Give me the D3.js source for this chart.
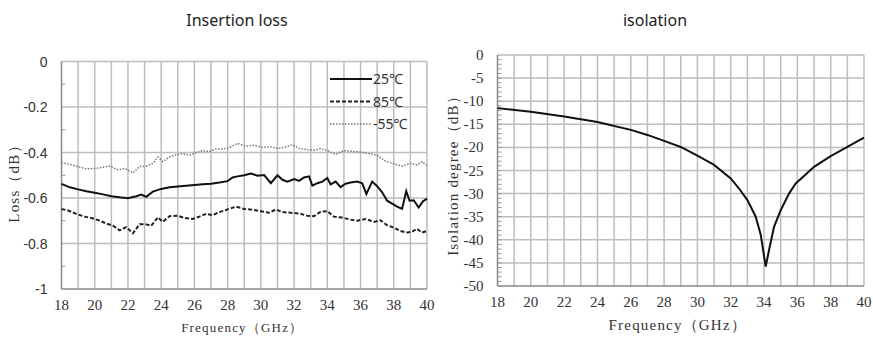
<!DOCTYPE html>
<html>
<head>
<meta charset="utf-8">
<script src="https://cdn.jsdelivr.net/npm/d3@7"></script>
<style>
  body { margin: 0; background: #fff; }
  svg text { fill: #333; }
</style>
</head>
<body>
<div id="chart"></div>
<script>
// Insertion loss data (GHz, dB)
const f25 = [18, 18.5, 19, 19.5, 20, 20.5, 21, 21.5, 22, 22.5, 22.8, 23.1, 23.5, 24, 24.5, 25, 25.5, 26, 26.5, 27, 27.5, 28, 28.3, 28.6, 29, 29.4, 29.8, 30.2, 30.6, 31.0, 31.3, 31.6, 32.0, 32.3, 32.6, 32.9, 33.1, 33.4, 33.7, 34.0, 34.2, 34.5, 34.8, 35.1, 35.4, 35.8, 36.1, 36.35, 36.7, 37.0, 37.3, 37.6, 37.9, 38.2, 38.5, 38.75, 38.95, 39.2, 39.5, 39.75, 40];
const loss25 = [-0.538, -0.553, -0.562, -0.570, -0.577, -0.584, -0.592, -0.597, -0.601, -0.592, -0.585, -0.595, -0.572, -0.560, -0.553, -0.549, -0.546, -0.543, -0.540, -0.537, -0.532, -0.526, -0.510, -0.505, -0.500, -0.492, -0.502, -0.499, -0.535, -0.500, -0.520, -0.528, -0.517, -0.525, -0.510, -0.505, -0.546, -0.535, -0.528, -0.512, -0.540, -0.528, -0.552, -0.537, -0.532, -0.528, -0.535, -0.582, -0.528, -0.548, -0.575, -0.612, -0.625, -0.638, -0.648, -0.570, -0.612, -0.610, -0.642, -0.615, -0.603];

const f85 = [18, 18.4, 18.9, 19.4, 19.9, 20.3, 20.7, 21.1, 21.5, 21.9, 22.3, 22.7, 23.1, 23.4, 23.8, 24.1, 24.5, 25.0, 25.4, 25.9, 26.3, 26.7, 27.1, 27.5, 28.0, 28.5, 29.0, 29.5, 30.0, 30.5, 30.9, 31.3, 31.8, 32.3, 32.8, 33.2, 33.6, 34.0, 34.4, 34.9, 35.4, 35.8, 36.3, 36.8, 37.2, 37.6, 38.0, 38.4, 38.8, 39.1, 39.4, 39.7, 40];
const loss85 = [-0.648, -0.655, -0.670, -0.682, -0.690, -0.700, -0.712, -0.722, -0.742, -0.728, -0.755, -0.715, -0.716, -0.722, -0.685, -0.705, -0.680, -0.678, -0.688, -0.692, -0.682, -0.670, -0.675, -0.662, -0.650, -0.638, -0.648, -0.652, -0.658, -0.665, -0.650, -0.662, -0.665, -0.668, -0.678, -0.680, -0.660, -0.658, -0.682, -0.686, -0.695, -0.700, -0.692, -0.705, -0.698, -0.720, -0.730, -0.745, -0.752, -0.748, -0.735, -0.752, -0.745];

const fm55 = [18, 18.5, 19, 19.5, 20, 20.5, 20.9, 21.4, 21.8, 22.3, 22.7, 23.1, 23.5, 23.8, 24.1, 24.5, 24.9, 25.3, 25.7, 26.1, 26.5, 26.9, 27.3, 27.7, 28.1, 28.6, 29.1, 29.6, 30.1, 30.6, 31.0, 31.4, 31.9, 32.3, 32.8, 33.2, 33.6, 34.0, 34.5, 35.0, 35.5, 36.0, 36.5, 37.0, 37.5, 38.0, 38.5, 39.0, 39.4, 39.7, 40];
const lossm55 = [-0.445, -0.452, -0.462, -0.472, -0.470, -0.465, -0.460, -0.476, -0.470, -0.490, -0.462, -0.460, -0.448, -0.420, -0.440, -0.420, -0.410, -0.405, -0.412, -0.400, -0.392, -0.396, -0.385, -0.385, -0.378, -0.360, -0.372, -0.368, -0.378, -0.375, -0.382, -0.378, -0.366, -0.382, -0.388, -0.390, -0.383, -0.392, -0.408, -0.392, -0.395, -0.398, -0.405, -0.412, -0.438, -0.450, -0.460, -0.448, -0.455, -0.440, -0.458];

// Isolation data
const fIso = [18, 20, 22, 24, 26, 27, 28, 29, 30, 31, 32, 32.5, 33, 33.5, 33.8, 34.1, 34.3, 34.6, 35, 35.5, 35.9, 36.4, 37, 38, 39, 40];
const iso = [-11.5, -12.3, -13.3, -14.5, -16.2, -17.3, -18.6, -19.9, -21.8, -23.8, -26.7, -28.9, -31.4, -35.0, -38.9, -45.8, -42.2, -37.2, -33.6, -30.0, -27.8, -26.2, -24.2, -21.9, -19.9, -17.9];

const freqTicks = [18, 20, 22, 24, 26, 28, 30, 32, 34, 36, 38, 40];
const lossTicks = [0, -0.2, -0.4, -0.6, -0.8, -1];
const isoTicks = [0, -5, -10, -15, -20, -25, -30, -35, -40, -45, -50];
const legendLabels = ["25\u2103", "85\u2103", "-55\u2103"];

const width = 873, height = 339;
const svg = d3.select("#chart").append("svg")
    .attr("width", width)
    .attr("height", height);

const serif = "'Liberation Serif', 'DejaVu Serif', serif";

function panel(opt) {
    const x = d3.scaleLinear().domain([18, 40]).range([opt.left, opt.right]);
    const y = d3.scaleLinear().domain(opt.yDomain).range([opt.top, opt.bottom]);
    const g = svg.append("g");

    // grid
    g.selectAll("line.vg")
        .data(d3.range(19, 41))
        .enter().append("line")
        .attr("x1", d => x(d)).attr("x2", d => x(d))
        .attr("y1", opt.top).attr("y2", opt.bottom)
        .attr("stroke", "#bdbdbd").attr("stroke-width", 1.5);
    g.selectAll("line.hg")
        .data(opt.yTicks.slice(0, -1))
        .enter().append("line")
        .attr("x1", opt.left).attr("x2", opt.right)
        .attr("y1", d => y(d)).attr("y2", d => y(d))
        .attr("stroke", "#bdbdbd").attr("stroke-width", 1.5);

    // minor ticks on the left axis
    g.selectAll("line.mt")
        .data(opt.minor)
        .enter().append("line")
        .attr("x1", opt.left).attr("x2", opt.left + 4)
        .attr("y1", d => y(d)).attr("y2", d => y(d))
        .attr("stroke", "#999").attr("stroke-width", 1);

    // axes lines
    g.append("line")
        .attr("x1", opt.left).attr("x2", opt.left)
        .attr("y1", opt.top).attr("y2", opt.bottom)
        .attr("stroke", "#8a8a8a").attr("stroke-width", 1.5);
    g.append("line")
        .attr("x1", opt.left).attr("x2", opt.right)
        .attr("y1", opt.bottom).attr("y2", opt.bottom)
        .attr("stroke", "#8a8a8a").attr("stroke-width", 1.5);

    // tick labels
    g.selectAll("text.xt")
        .data(freqTicks)
        .enter().append("text")
        .attr("x", d => x(d))
        .attr("y", opt.bottom + 21)
        .attr("text-anchor", "middle")
        .style("font-family", serif)
        .style("font-size", "15px")
        .text(d => d);
    g.selectAll("text.yt")
        .data(opt.yTicks)
        .enter().append("text")
        .attr("x", opt.left - 14)
        .attr("y", d => y(d) + 5)
        .attr("text-anchor", "end")
        .style("font-family", opt.yFont)
        .style("font-size", opt.yTickSize)
        .text(d => d);

    // axis titles
    g.append("text")
        .attr("x", (opt.left + opt.right) / 2 + opt.xTitleDx)
        .attr("y", opt.xTitleY)
        .attr("text-anchor", "middle")
        .style("font-family", serif)
        .style("font-size", opt.xTitleSize)
        .style("letter-spacing", "1.2px")
        .text("Frequency\uff08GHz\uff09");
    g.append("text")
        .attr("transform", `translate(${opt.yTitleX},${opt.yTitleY}) rotate(-90)`)
        .attr("text-anchor", "middle")
        .style("font-family", serif)
        .style("font-size", "15px")
        .style("letter-spacing", "1.2px")
        .text(opt.yTitle);

    // chart title
    svg.append("text")
        .attr("x", opt.titleX)
        .attr("y", 26)
        .attr("text-anchor", "middle")
        .style("font-family", "'Noto Sans', 'Open Sans', sans-serif")
        .style("font-size", "16px")
        .style("fill", "#222")
        .text(opt.title);

    return { x, y, g };
}

// ---- Insertion loss ----
const p1 = panel({
    left: 61.5, right: 427, top: 61.5, bottom: 289,
    yDomain: [0, -1], yTicks: lossTicks,
    minor: [-0.1, -0.3, -0.5, -0.7, -0.9],
    yFont: "'Liberation Sans', Arial, sans-serif", yTickSize: "14px",
    xTitleDx: -2, xTitleY: 332, xTitleSize: "13px",
    yTitle: "Loss\uff08dB\uff09", yTitleX: 19, yTitleY: 180,
    title: "Insertion loss", titleX: 237
});

const series = [
    { f: f25, v: loss25, w: 2, dash: null, color: "#111" },
    { f: f85, v: loss85, w: 2, dash: "4,2", color: "#222" },
    { f: fm55, v: lossm55, w: 1.5, dash: "1.5,1.5", color: "#777" }
];

series.forEach(s => {
    const line = d3.line()
        .x((d, i) => p1.x(s.f[i]))
        .y(d => p1.y(d));
    p1.g.append("path")
        .datum(s.v)
        .attr("d", line)
        .attr("fill", "none")
        .attr("stroke", s.color)
        .attr("stroke-width", s.w)
        .attr("stroke-dasharray", s.dash);
});

// legend
const lg = svg.append("g");
series.forEach((s, i) => {
    const ly = 79 + i * 22.5;
    lg.append("line")
        .attr("x1", 330).attr("x2", 372)
        .attr("y1", ly).attr("y2", ly)
        .attr("stroke", s.color)
        .attr("stroke-width", s.w)
        .attr("stroke-dasharray", s.dash);
    lg.append("text")
        .attr("x", 373).attr("y", ly + 5)
        .style("font-family", "'Noto Sans', 'Open Sans', sans-serif")
        .style("font-size", "14px")
        .text(legendLabels[i]);
});

// ---- Isolation ----
const p2 = panel({
    left: 497.5, right: 864, top: 55, bottom: 286,
    yDomain: [0, -50], yTicks: isoTicks,
    minor: d3.range(-1, -50, -1),
    yFont: serif, yTickSize: "15px",
    xTitleDx: -3, xTitleY: 330, xTitleSize: "15px",
    yTitle: "Isolation degree\uff08dB\uff09", yTitleX: 458, yTitleY: 172,
    title: "isolation", titleX: 655
});

p2.g.append("path")
    .datum(iso)
    .attr("d", d3.line().x((d, i) => p2.x(fIso[i])).y(d => p2.y(d)))
    .attr("fill", "none")
    .attr("stroke", "#111")
    .attr("stroke-width", 2);
</script>
</body>
</html>
